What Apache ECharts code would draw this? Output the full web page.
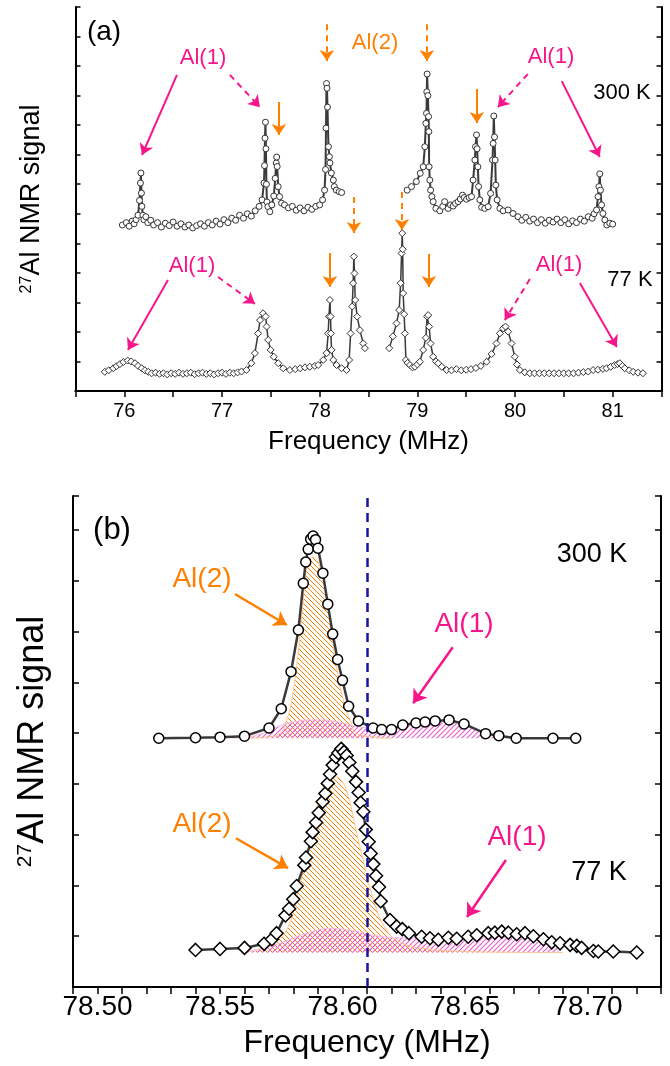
<!DOCTYPE html>
<html>
<head>
<meta charset="utf-8">
<script src="https://cdn.jsdelivr.net/npm/echarts@6/dist/echarts.min.js"></script>
<style>
  html, body { margin: 0; padding: 0; background: #fff; }
  #chart { width: 670px; height: 1066px; }
</style>
</head>
<body>
<div id="chart"></div>
<script>
// ---- panel (a): wide-range spectra, [frequency MHz, signal] ----
const a300Left = [[75.98, 5.62], [76.02, 5.70], [76.05, 5.58], [76.08, 5.75], [76.10, 5.66], [76.12, 5.80], [76.14, 5.95], [76.155, 6.45], [76.165, 7.04], [76.17, 7.38], [76.175, 6.70], [76.18, 6.25], [76.19, 5.95], [76.20, 5.80], [76.22, 5.90], [76.24, 5.70], [76.27, 5.78], [76.30, 5.62], [76.34, 5.70], [76.38, 5.55], [76.42, 5.68], [76.46, 5.60], [76.50, 5.72], [76.54, 5.58], [76.58, 5.66], [76.62, 5.55], [76.66, 5.62], [76.70, 5.52], [76.74, 5.60], [76.78, 5.66], [76.82, 5.58], [76.86, 5.70], [76.90, 5.62], [76.94, 5.75], [76.98, 5.65], [77.02, 5.80], [77.06, 5.70], [77.10, 5.85], [77.14, 5.78], [77.18, 5.95], [77.22, 5.85], [77.26, 6.00], [77.30, 5.92], [77.34, 6.10], [77.38, 6.25], [77.41, 6.47], [77.43, 7.04], [77.435, 7.63], [77.44, 8.56], [77.445, 9.10], [77.45, 8.20], [77.455, 7.00], [77.46, 6.40], [77.47, 6.24], [77.49, 6.07], [77.51, 6.30], [77.53, 6.60], [77.545, 7.20], [77.555, 7.72], [77.56, 7.92], [77.565, 7.60], [77.575, 6.92], [77.59, 6.58], [77.61, 6.36], [77.64, 6.30], [77.68, 6.20], [77.72, 6.25], [77.76, 6.12], [77.80, 6.20], [77.84, 6.10], [77.88, 6.22], [77.92, 6.15], [77.96, 6.25], [78.00, 6.30], [78.03, 6.47], [78.05, 6.80], [78.06, 7.50], [78.065, 8.90], [78.07, 10.41], [78.075, 10.25], [78.08, 9.61], [78.09, 8.27], [78.10, 7.93], [78.105, 7.72], [78.12, 7.38], [78.14, 7.14], [78.15, 6.92], [78.17, 6.80], [78.20, 6.75], [78.225, 6.72]];
const a300Right = [[78.896, 6.80], [78.94, 6.92], [78.99, 7.09], [79.03, 7.37], [79.06, 7.59], [79.077, 8.27], [79.087, 9.06], [79.094, 9.40], [79.097, 10.13], [79.10, 10.73], [79.108, 10.0], [79.115, 9.29], [79.118, 8.78], [79.121, 7.59], [79.128, 7.14], [79.136, 6.80], [79.149, 6.58], [79.162, 6.41], [79.19, 6.18], [79.23, 6.10], [79.26, 6.25], [79.28, 6.41], [79.316, 6.18], [79.34, 6.30], [79.367, 6.26], [79.39, 6.35], [79.418, 6.41], [79.44, 6.50], [79.463, 6.63], [79.48, 6.55], [79.504, 6.49], [79.53, 6.55], [79.555, 6.58], [79.571, 7.14], [79.589, 7.82], [79.596, 8.27], [79.606, 8.67], [79.612, 8.20], [79.62, 7.59], [79.627, 6.92], [79.64, 6.47], [79.658, 6.22], [79.69, 6.18], [79.725, 6.24], [79.75, 6.69], [79.77, 7.82], [79.776, 8.38], [79.783, 9.31], [79.79, 8.60], [79.797, 7.82], [79.804, 6.97], [79.817, 6.47], [79.845, 6.18], [79.879, 6.10], [79.93, 6.13], [79.98, 6.01], [80.03, 5.90], [80.07, 5.78], [80.11, 5.88], [80.15, 5.75], [80.19, 5.82], [80.23, 5.70], [80.27, 5.80], [80.31, 5.68], [80.35, 5.78], [80.39, 5.72], [80.43, 5.82], [80.47, 5.70], [80.51, 5.80], [80.55, 5.66], [80.59, 5.76], [80.63, 5.70], [80.67, 5.82], [80.71, 5.75], [80.75, 5.90], [80.79, 5.85], [80.81, 6.00], [80.835, 6.13], [80.85, 6.58], [80.86, 6.92], [80.868, 7.35], [80.875, 6.80], [80.886, 6.30], [80.90, 6.01], [80.92, 5.79], [80.94, 5.62], [80.97, 5.68], [81.0, 5.65]];
const a77Left = [[75.80, 0.65], [75.84, 0.70], [75.887, 0.77], [75.92, 0.84], [75.955, 0.91], [75.99, 0.98], [76.034, 1.03], [76.07, 1.00], [76.109, 0.94], [76.14, 0.85], [76.178, 0.77], [76.21, 0.70], [76.245, 0.65], [76.28, 0.60], [76.32, 0.62], [76.36, 0.58], [76.40, 0.60], [76.44, 0.56], [76.48, 0.60], [76.52, 0.58], [76.56, 0.62], [76.60, 0.58], [76.64, 0.60], [76.68, 0.62], [76.72, 0.57], [76.76, 0.60], [76.80, 0.62], [76.84, 0.58], [76.88, 0.60], [76.92, 0.56], [76.96, 0.60], [77.00, 0.62], [77.04, 0.58], [77.08, 0.62], [77.12, 0.60], [77.16, 0.63], [77.20, 0.66], [77.25, 0.71], [77.30, 0.94], [77.337, 1.28], [77.37, 1.95], [77.39, 2.40], [77.42, 2.63], [77.447, 2.52], [77.457, 2.18], [77.473, 1.73], [77.498, 1.39], [77.53, 1.16], [77.576, 0.94], [77.627, 0.77], [77.695, 0.71], [77.75, 0.74], [77.80, 0.77], [77.85, 0.80], [77.90, 0.82], [77.95, 0.85], [77.985, 0.88], [78.036, 1.05], [78.071, 1.28], [78.087, 1.95], [78.095, 2.52], [78.105, 3.08], [78.112, 2.52], [78.115, 1.95], [78.122, 1.39], [78.139, 1.05], [78.173, 0.88], [78.225, 0.77], [78.276, 0.71], [78.302, 1.05], [78.317, 1.95], [78.333, 2.86], [78.343, 3.65], [78.35, 4.55], [78.357, 3.98], [78.364, 3.08], [78.384, 2.52], [78.412, 2.06], [78.446, 1.61], [78.463, 1.45]];
const a77Right = [[78.712, 1.45], [78.75, 1.85], [78.787, 2.29], [78.814, 2.74], [78.829, 3.65], [78.839, 4.66], [78.845, 5.34], [78.85, 4.80], [78.855, 3.31], [78.865, 2.60], [78.873, 1.95], [78.883, 1.05], [78.90, 0.95], [78.924, 0.88], [78.95, 0.80], [78.975, 0.82], [79.00, 0.90], [79.026, 0.99], [79.06, 1.39], [79.087, 1.80], [79.10, 2.52], [79.111, 2.57], [79.121, 2.18], [79.136, 1.61], [79.162, 1.16], [79.19, 1.00], [79.213, 0.94], [79.25, 0.82], [79.30, 0.71], [79.35, 0.70], [79.40, 0.74], [79.45, 0.70], [79.50, 0.72], [79.55, 0.74], [79.60, 0.78], [79.65, 0.85], [79.709, 0.99], [79.76, 1.25], [79.81, 1.61], [79.845, 1.95], [79.879, 2.12], [79.903, 2.18], [79.93, 2.01], [79.965, 1.61], [79.998, 1.16], [80.02, 0.90], [80.05, 0.71], [80.10, 0.63], [80.152, 0.60], [80.20, 0.60], [80.25, 0.60], [80.30, 0.60], [80.35, 0.60], [80.40, 0.60], [80.45, 0.60], [80.50, 0.60], [80.55, 0.60], [80.60, 0.60], [80.65, 0.62], [80.70, 0.64], [80.75, 0.66], [80.80, 0.71], [80.85, 0.72], [80.90, 0.75], [80.937, 0.77], [80.98, 0.82], [81.02, 0.88], [81.05, 0.91], [81.073, 0.94], [81.10, 0.85], [81.124, 0.77], [81.17, 0.70], [81.21, 0.65], [81.26, 0.62], [81.31, 0.60]];

// ---- panel (b): central line ----
const b300 = [[78.525, 4.90], [78.540, 4.91], [78.550, 4.92], [78.560, 4.94], [78.570, 5.10], [78.575, 5.48], [78.579, 6.21], [78.582, 7.03], [78.584, 7.95], [78.585, 8.37], [78.586, 8.62], [78.587, 8.82], [78.588, 8.88], [78.589, 8.81], [78.590, 8.64], [78.592, 8.15], [78.594, 7.54], [78.596, 6.95], [78.598, 6.45], [78.600, 6.04], [78.6025, 5.53], [78.6065, 5.24], [78.6125, 5.10], [78.616, 5.07], [78.620, 5.07], [78.6246, 5.16], [78.630, 5.20], [78.6337, 5.22], [78.6378, 5.24], [78.6435, 5.26], [78.6496, 5.18], [78.6584, 4.99], [78.6638, 4.95], [78.6709, 4.90], [78.6859, 4.90], [78.6952, 4.90]];
const b77 = [[78.540, 0.73], [78.550, 0.75], [78.560, 0.77], [78.568, 0.85], [78.5712, 0.94], [78.5731, 1.06], [78.5767, 1.41], [78.5782, 1.54], [78.5799, 1.73], [78.5813, 1.99], [78.5844, 2.40], [78.5851, 2.55], [78.5871, 2.87], [78.5878, 3.05], [78.5892, 3.24], [78.5903, 3.43], [78.5919, 3.65], [78.5930, 3.81], [78.5940, 4.01], [78.5949, 4.19], [78.5960, 4.37], [78.5973, 4.53], [78.5983, 4.61], [78.5995, 4.69], [78.6006, 4.63], [78.6017, 4.56], [78.6028, 4.42], [78.6040, 4.25], [78.6055, 4.04], [78.6066, 3.83], [78.6074, 3.63], [78.6085, 3.45], [78.6095, 3.10], [78.6107, 2.86], [78.6115, 2.63], [78.6126, 2.42], [78.6137, 2.19], [78.6149, 1.97], [78.6156, 1.69], [78.6194, 1.32], [78.6221, 1.19], [78.6244, 1.14], [78.6271, 1.06], [78.6323, 0.99], [78.6357, 0.96], [78.6391, 0.93], [78.6432, 0.97], [78.6466, 0.95], [78.6513, 0.99], [78.6548, 1.02], [78.6595, 1.06], [78.6622, 1.07], [78.6650, 1.09], [78.6677, 1.07], [78.6711, 1.04], [78.6745, 1.06], [78.6779, 1.00], [78.6820, 0.94], [78.6854, 0.88], [78.6888, 0.86], [78.6929, 0.83], [78.6956, 0.81], [78.6976, 0.77], [78.7024, 0.71], [78.7044, 0.70], [78.7105, 0.70], [78.7201, 0.68]];
const b300Al2Fit = [[78.560, 4.90], [78.570, 4.93], [78.5745, 5.0], [78.5775, 5.3], [78.5793, 5.65], [78.5815, 6.4], [78.5827, 6.96], [78.584, 7.62], [78.5854, 8.27], [78.5877, 8.47], [78.5908, 8.27], [78.5936, 7.62], [78.5956, 6.96], [78.5976, 6.3], [78.6003, 5.65], [78.6031, 5.26], [78.6058, 5.0], [78.612, 4.93], [78.62, 4.90]];
const b300Al1Fit = [[78.555, 4.90], [78.565, 4.96], [78.572, 5.10], [78.580, 5.22], [78.590, 5.26], [78.598, 5.22], [78.606, 5.13], [78.615, 5.10], [78.625, 5.16], [78.635, 5.20], [78.6425, 5.21], [78.6493, 5.15], [78.6561, 5.06], [78.6629, 4.96], [78.670, 4.90], [78.68, 4.90]];
const b77Al2Fit = [[78.560, 0.68], [78.566, 0.75], [78.5716, 0.87], [78.5772, 1.12], [78.5813, 1.78], [78.5847, 2.43], [78.5877, 3.09], [78.5908, 3.75], [78.5942, 4.07], [78.5967, 4.14], [78.5995, 4.07], [78.6024, 3.75], [78.6055, 3.09], [78.6088, 2.43], [78.6123, 1.78], [78.618, 1.12], [78.625, 0.85], [78.633, 0.76], [78.645, 0.71], [78.66, 0.69], [78.69, 0.68]];
const b77Al1Fit = [[78.560, 0.68], [78.568, 0.76], [78.575, 0.87], [78.585, 1.05], [78.595, 1.15], [78.605, 1.10], [78.615, 1.00], [78.625, 0.97], [78.640, 0.97], [78.655, 0.98], [78.670, 0.98], [78.682, 0.97], [78.6865, 0.95], [78.688, 0.68]];
const centerLine = 78.6055;

const ORANGE = '#ff8000';
const PINK = '#f5168a';
const FONT = 'Liberation Sans, Arial, sans-serif';

function hatch (color, forward, width) {
  const c = document.createElement('canvas');
  c.width = 5; c.height = 5;
  const g = c.getContext('2d');
  g.strokeStyle = color;
  g.lineWidth = width;
  g.beginPath();
  if (forward) {
    g.moveTo(-1, 6); g.lineTo(6, -1);
    g.moveTo(-3, 3); g.lineTo(3, -3);
    g.moveTo(2, 8); g.lineTo(8, 2);
  } else {
    g.moveTo(-1, -1); g.lineTo(6, 6);
    g.moveTo(-3, 2); g.lineTo(3, 8);
    g.moveTo(2, -3); g.lineTo(8, 3);
  }
  g.stroke();
  return { image: c, repeat: 'repeat' };
}

// arrows: [from, to, colour, dashed]
const arrowsA = [
  [[76.539, 10.70], [76.181, 7.99], PINK, false],
  [[77.081, 10.70], [77.388, 9.61], PINK, true],
  [[77.583, 9.78], [77.583, 8.67], ORANGE, false],
  [[78.074, 12.42], [78.074, 11.17], ORANGE, true],
  [[79.098, 12.42], [79.098, 11.17], ORANGE, true],
  [[79.609, 10.22], [79.609, 9.07], ORANGE, false],
  [[80.131, 10.73], [79.824, 9.61], PINK, true],
  [[80.479, 10.49], [80.868, 7.92], PINK, false],
  [[76.447, 3.76], [76.037, 1.39], PINK, false],
  [[76.959, 3.86], [77.337, 2.95], PINK, true],
  [[78.105, 4.67], [78.105, 3.52], ORANGE, false],
  [[78.351, 6.57], [78.351, 5.35], ORANGE, true],
  [[78.842, 6.74], [78.842, 5.45], ORANGE, true],
  [[79.118, 4.64], [79.118, 3.52], ORANGE, false],
  [[80.152, 3.79], [79.896, 2.40], PINK, true],
  [[80.664, 3.66], [81.043, 1.49], PINK, false]
];
const arrowsB = [
  [[78.5561, 7.74], [78.5773, 7.13], ORANGE, false],
  [[78.6450, 6.69], [78.6288, 5.59], PINK, false],
  [[78.5565, 2.93], [78.5778, 2.34], ORANGE, false],
  [[78.6667, 2.50], [78.6508, 1.38], PINK, false]
];

const toMarkLine = (list, width, size) => ({
  silent: true,
  symbol: ['none', 'arrow'],
  symbolSize: size,
  label: { show: false },
  data: list.map(a => [
    { coord: a[0], lineStyle: { color: a[2], width: width, type: a[3] ? [6, 5] : 'solid' }, itemStyle: { color: a[2] } },
    { coord: a[1] }
  ])
});

const tickLabelA = v => Math.abs(v - Math.round(v)) < 1e-6 ? String(Math.round(v)) : '';
const tickLabelB = v => { const k = Math.round(v * 100); return k % 5 === 0 ? (k / 100).toFixed(2) : ''; };

const axisLine = { show: true, lineStyle: { color: '#000', width: 2 } };

const chart = echarts.init(document.getElementById('chart'));
chart.setOption({
  animation: false,
  backgroundColor: '#fff',
  textStyle: { fontFamily: FONT },
  grid: [
    { left: 75.5, top: 7, width: 586, height: 384 },
    { left: 73, top: 496, width: 588, height: 491 }
  ],
  xAxis: [
    { gridIndex: 0, type: 'value', min: 75.5, max: 81.5, interval: 0.5, axisLine,
      axisTick: { length: 6, lineStyle: { width: 1.5, color: '#000' } },
      axisLabel: { formatter: tickLabelA, fontSize: 20, color: '#000', margin: 10 },
      splitLine: { show: false },
      name: 'Frequency (MHz)', nameLocation: 'middle', nameGap: 38,
      nameTextStyle: { fontSize: 26, color: '#000' } },
    { gridIndex: 0, type: 'value', position: 'top', min: 75.5, max: 81.5, interval: 0.5, axisLine,
      axisTick: { inside: true, length: 5, lineStyle: { width: 1.5, color: '#000' } },
      axisLabel: { show: false }, splitLine: { show: false } },
    { gridIndex: 1, type: 'value', min: 78.49, max: 78.73, interval: 0.01, axisLine,
      axisTick: { length: 7, lineStyle: { width: 1.5, color: '#000' } },
      axisLabel: { formatter: tickLabelB, fontSize: 28, color: '#000', margin: 6 },
      splitLine: { show: false },
      name: 'Frequency (MHz)', nameLocation: 'middle', nameGap: 40,
      nameTextStyle: { fontSize: 32, color: '#000' } },
    { gridIndex: 1, type: 'value', position: 'top', min: 78.49, max: 78.73, interval: 0.01, axisLine,
      axisTick: { inside: true, length: 5, lineStyle: { width: 1.5, color: '#000' } },
      axisLabel: { show: false }, splitLine: { show: false } }
  ],
  yAxis: [
    { gridIndex: 0, type: 'value', min: 0, max: 13, interval: 1, axisLine,
      axisTick: { inside: true, length: 5, lineStyle: { width: 1.5, color: '#000' } },
      axisLabel: { show: false }, splitLine: { show: false },
      name: '{s|27}Al NMR signal', nameLocation: 'middle', nameGap: 30, nameRotate: 90,
      nameTextStyle: { fontSize: 27, color: '#000', rich: { s: { fontSize: 16, verticalAlign: 'top', color: '#000' } } } },
    { gridIndex: 0, type: 'value', position: 'right', min: 0, max: 13, interval: 1, axisLine,
      axisTick: { inside: true, length: 5, lineStyle: { width: 1.5, color: '#000' } },
      axisLabel: { show: false }, splitLine: { show: false } },
    { gridIndex: 1, type: 'value', min: 0, max: 9.67, interval: 1, axisLine,
      axisTick: { inside: true, length: 6, lineStyle: { width: 1.5, color: '#000' } },
      axisLabel: { show: false }, splitLine: { show: false },
      name: '{s|27}Al NMR signal', nameLocation: 'middle', nameGap: 22, nameRotate: 90,
      nameTextStyle: { fontSize: 36, color: '#000', rich: { s: { fontSize: 21, verticalAlign: 'top', color: '#000' } } } },
    { gridIndex: 1, type: 'value', position: 'right', min: 0, max: 9.67, interval: 1, axisLine,
      axisTick: { inside: true, length: 6, lineStyle: { width: 1.5, color: '#000' } },
      axisLabel: { show: false }, splitLine: { show: false } }
  ],
  series: [
    // panel (a)
    { type: 'line', xAxisIndex: 0, yAxisIndex: 0, data: a300Left, symbol: 'circle', symbolSize: 6,
      itemStyle: { color: '#fff', borderColor: '#333', borderWidth: 1 }, lineStyle: { color: '#3a3a3a', width: 2 },
      markLine: toMarkLine(arrowsA, 2, 11), z: 3 },
    { type: 'line', xAxisIndex: 0, yAxisIndex: 0, data: a300Right, symbol: 'circle', symbolSize: 6,
      itemStyle: { color: '#fff', borderColor: '#333', borderWidth: 1 }, lineStyle: { color: '#3a3a3a', width: 2 }, z: 3 },
    { type: 'line', xAxisIndex: 0, yAxisIndex: 0, data: a77Left, symbol: 'diamond', symbolSize: 7,
      itemStyle: { color: '#fff', borderColor: '#333', borderWidth: 1 }, lineStyle: { color: '#3a3a3a', width: 1.5 }, z: 3 },
    { type: 'line', xAxisIndex: 0, yAxisIndex: 0, data: a77Right, symbol: 'diamond', symbolSize: 7,
      itemStyle: { color: '#fff', borderColor: '#333', borderWidth: 1 }, lineStyle: { color: '#3a3a3a', width: 1.5 }, z: 3 },
    // panel (b) fit components
    { type: 'line', xAxisIndex: 2, yAxisIndex: 2, data: b300Al2Fit, smooth: true, symbol: 'none',
      lineStyle: { color: '#ffc58a', width: 1 }, areaStyle: { origin: 4.9, color: hatch(ORANGE, false, 1), opacity: 1 }, z: 1 },
    { type: 'line', xAxisIndex: 2, yAxisIndex: 2, data: b300Al1Fit, smooth: true, symbol: 'none',
      lineStyle: { color: '#f7b8e8', width: 1 }, areaStyle: { origin: 4.9, color: hatch('#e860d0', true, 1.2), opacity: 1 }, z: 1 },
    { type: 'line', xAxisIndex: 2, yAxisIndex: 2, data: b77Al2Fit, smooth: true, symbol: 'none',
      lineStyle: { color: '#ffc58a', width: 1 }, areaStyle: { origin: 0.68, color: hatch(ORANGE, false, 1), opacity: 1 }, z: 1 },
    { type: 'line', xAxisIndex: 2, yAxisIndex: 2, data: b77Al1Fit, smooth: true, symbol: 'none',
      lineStyle: { color: '#f7b8e8', width: 1 }, areaStyle: { origin: 0.68, color: hatch('#e860d0', true, 1.2), opacity: 1 }, z: 1 },
    // panel (b) data
    { type: 'line', xAxisIndex: 2, yAxisIndex: 2, data: b300, symbol: 'circle', symbolSize: 10,
      itemStyle: { color: '#fff', borderColor: '#000', borderWidth: 1.5 }, lineStyle: { color: '#3a3a3a', width: 2.5 },
      markLine: toMarkLine(arrowsB, 2.5, 13), z: 4 },
    { type: 'line', xAxisIndex: 2, yAxisIndex: 2, data: b77, symbol: 'diamond', symbolSize: 13,
      itemStyle: { color: '#fff', borderColor: '#000', borderWidth: 1.5 }, lineStyle: { color: '#3a3a3a', width: 2.5 },
      markLine: { silent: true, symbol: 'none', label: { show: false },
        lineStyle: { color: '#14149c', width: 2.5, type: [9, 6] },
        data: [{ xAxis: centerLine }] }, z: 4 }
  ],
  graphic: [
    { type: 'text', x: 104, y: 32, style: { text: '(a)', font: '28px ' + FONT, fill: '#000', align: 'center', verticalAlign: 'middle' } },
    { type: 'text', x: 203, y: 58, style: { text: 'Al(1)', font: '22px ' + FONT, fill: PINK, align: 'center', verticalAlign: 'middle' } },
    { type: 'text', x: 375, y: 43, style: { text: 'Al(2)', font: '22px ' + FONT, fill: ORANGE, align: 'center', verticalAlign: 'middle' } },
    { type: 'text', x: 551, y: 57, style: { text: 'Al(1)', font: '22px ' + FONT, fill: PINK, align: 'center', verticalAlign: 'middle' } },
    { type: 'text', x: 622, y: 93, style: { text: '300 K', font: '22px ' + FONT, fill: '#000', align: 'center', verticalAlign: 'middle' } },
    { type: 'text', x: 192, y: 266, style: { text: 'Al(1)', font: '22px ' + FONT, fill: PINK, align: 'center', verticalAlign: 'middle' } },
    { type: 'text', x: 559, y: 265, style: { text: 'Al(1)', font: '22px ' + FONT, fill: PINK, align: 'center', verticalAlign: 'middle' } },
    { type: 'text', x: 630, y: 280, style: { text: '77 K', font: '22px ' + FONT, fill: '#000', align: 'center', verticalAlign: 'middle' } },
    { type: 'text', x: 112, y: 530, style: { text: '(b)', font: '31px ' + FONT, fill: '#000', align: 'center', verticalAlign: 'middle' } },
    { type: 'text', x: 592, y: 555, style: { text: '300 K', font: '27px ' + FONT, fill: '#000', align: 'center', verticalAlign: 'middle' } },
    { type: 'text', x: 202, y: 579, style: { text: 'Al(2)', font: '28px ' + FONT, fill: ORANGE, align: 'center', verticalAlign: 'middle' } },
    { type: 'text', x: 464, y: 624, style: { text: 'Al(1)', font: '28px ' + FONT, fill: PINK, align: 'center', verticalAlign: 'middle' } },
    { type: 'text', x: 202, y: 824, style: { text: 'Al(2)', font: '28px ' + FONT, fill: ORANGE, align: 'center', verticalAlign: 'middle' } },
    { type: 'text', x: 517, y: 837, style: { text: 'Al(1)', font: '28px ' + FONT, fill: PINK, align: 'center', verticalAlign: 'middle' } },
    { type: 'text', x: 599, y: 873, style: { text: '77 K', font: '27px ' + FONT, fill: '#000', align: 'center', verticalAlign: 'middle' } }
  ]
});
</script>
</body>
</html>
